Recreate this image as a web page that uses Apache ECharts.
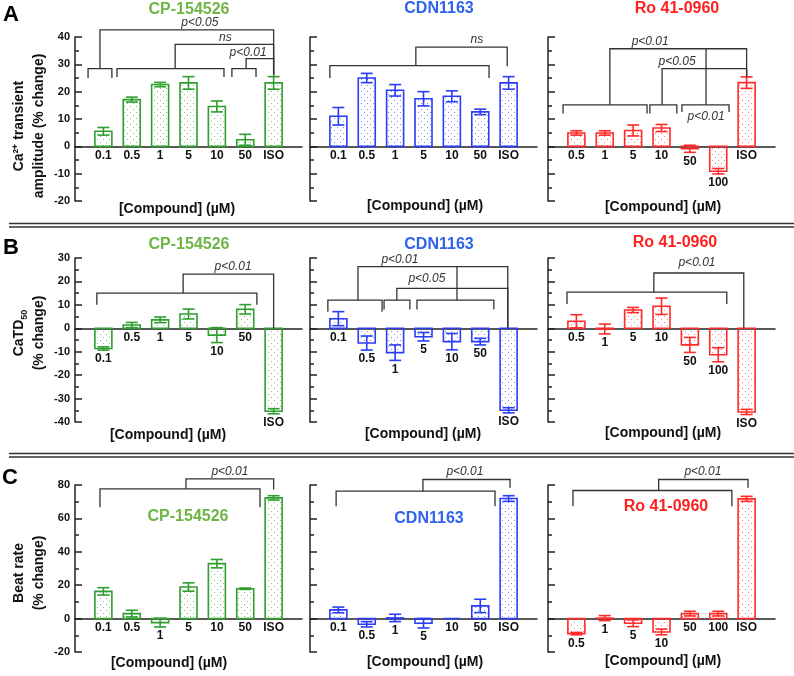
<!DOCTYPE html>
<html>
<head>
<meta charset="utf-8">
<title>Ca2+ transient, CaTD50 and beat rate</title>
<script src="https://cdn.jsdelivr.net/npm/echarts@6/dist/echarts.min.js"></script>
<style>
    html, body { margin: 0; padding: 0; background: #fff; }
    #chart { width: 794px; height: 676px; }
</style>
</head>
<body>
<div id="chart"></div>
<script>
// 类别（浓度 µM）
const catsCP = ['0.1', '0.5', '1', '5', '10', '50', 'ISO'];
const catsCDN = ['0.1', '0.5', '1', '5', '10', '50', 'ISO'];
const catsRo = ['0.5', '1', '5', '10', '50', '100', 'ISO'];

// A: Ca2+ transient amplitude (% change)
const ampCP = [5.5, 17.1, 22.6, 23.2, 14.6, 2.4, 23.2];
const ampCPErr = [1.4, 0.9, 0.8, 2.3, 2.0, 2.0, 2.3];
const ampCDN = [11.0, 25.0, 20.5, 17.4, 18.3, 12.6, 23.2];
const ampCDNErr = [3.2, 1.7, 2.1, 2.6, 2.0, 1.0, 2.3];
const ampRo = [4.9, 4.9, 5.8, 6.7, -0.9, -9.1, 23.3];
const ampRoErr = [0.8, 0.8, 2.0, 1.3, 1.3, 1.0, 2.1];

// B: CaTD50 (% change)
const catdCP = [-8.6, 1.4, 3.6, 6.1, -2.9, 8.1, -35.4];
const catdCPErr = [0.7, 1.1, 1.2, 2.1, 3.2, 2.0, 1.1];
const catdCDN = [4.1, -6.3, -10.4, -3.6, -5.7, -5.7, -35.0];
const catdCDNErr = [3.0, 3.0, 3.3, 1.8, 3.5, 1.4, 1.1];
const catdRo = [3.0, -0.3, 7.8, 9.4, -7.1, -11.3, -35.7];
const catdRoErr = [2.8, 2.1, 1.1, 3.5, 3.2, 3.0, 1.1];

// C: Beat rate (% change)
const rateCP = [16.3, 3.0, -2.4, 18.9, 32.9, 17.9, 72.3];
const rateCPErr = [2.2, 2.0, 2.6, 2.5, 2.5, 0.4, 1.3];
const rateCDN = [5.2, -3.4, 0.4, -2.8, 0, 7.6, 71.9];
const rateCDNErr = [1.7, 1.6, 2.2, 2.8, 0, 4.0, 1.7];
const rateRo = [-9.0, 0.3, -2.8, -8.0, 3.0, 3.0, 71.7];
const rateRoErr = [0.7, 1.5, 2.0, 1.7, 1.4, 1.4, 1.5];

// 显著性连线: [x起点, y起点, x终点, y终点, 横线高度]（类别序号 / 数值）
const sigAmpCP = [
    [-0.54, 25, 0.30, 25, 28.4],
    [0.48, 25.4, 4.25, 25.4, 28.4],
    [4.53, 25.4, 5.38, 25.4, 28.4],
    [-0.12, 28.4, 6, 26, 42.6],
    [2.53, 28.4, 6, 26, 37.3],
    [5.03, 28.4, 6, 26, 32.1]
];
const noteAmpCP = [[3.4, 45.2, 'p<0.05'], [4.3, 39.6, 'ns'], [5.1, 34.2, 'p<0.01']];

const sigAmpCDN = [
    [-0.30, 25, 5.31, 25, 29.5],
    [2.73, 29.5, 5.95, 29.3, 36.3]
];
const noteAmpCDN = [[4.88, 39, 'ns']];

const sigAmpRo = [
    [-0.47, 12, 2.49, 12, 15.2],
    [2.59, 12, 3.54, 12, 15.2],
    [3.72, 12.6, 5.38, 12.6, 15.2],
    [1.18, 15.2, 6, 25.5, 35.7],
    [3.02, 15.2, 6, 25.5, 28.4],
    [4.57, 15.2, 4.57, 35.7, 35.7]
];
const noteAmpRo = [[2.6, 38.4, 'p<0.01'], [3.55, 31, 'p<0.05'], [4.57, 11, 'p<0.01']];

const sigCatdCP = [
    [-0.23, 10, 5.41, 10, 15],
    [2.81, 15, 6, 0, 23.1]
];
const noteCatdCP = [[4.57, 26.4, 'p<0.01']];

const sigCatdCDN = [
    [-0.37, 7.1, 1.54, 7.1, 12],
    [1.61, 8, 2.52, 8, 12],
    [2.77, 8, 5.48, 8, 12],
    [0.69, 12, 5.97, 0, 26.3],
    [2.06, 12, 5.97, 0, 17],
    [4.18, 12, 4.18, 26.3, 26.3]
];
const noteCatdCDN = [[2.17, 29.3, 'p<0.01'], [3.12, 21, 'p<0.05']];

const sigCatdRo = [
    [-0.33, 10.4, 5.3, 10.4, 15.4],
    [2.73, 15.4, 5.9, 0, 23.6]
];
const noteCatdRo = [[4.25, 27.9, 'p<0.01']];

const sigRateCP = [
    [-0.12, 66.7, 5.52, 66.7, 77.7],
    [2.91, 77.7, 6, 77.3, 83.7]
];
const noteRateCP = [[4.46, 88, 'p<0.01']];

const sigRateCDN = [
    [-0.08, 67.3, 5.52, 67.3, 76.3],
    [2.98, 76.3, 6.05, 78.3, 83.3]
];
const noteRateCDN = [[4.46, 88, 'p<0.01']];

const sigRateRo = [
    [-0.12, 67.3, 5.48, 67.3, 76.7],
    [2.9, 76.7, 6.05, 78.3, 83.3]
];
const noteRateRo = [[4.46, 88, 'p<0.01']];

// 颜色
const GREEN = '#2f9e2f', GREEN_T = '#6fb546';
const BLUE = '#2a3df5', BLUE_T = '#2f63ee';
const RED = '#ff2a2a', RED_T = '#ff2020';
const FONT = '"Liberation Sans", Arial, sans-serif';

// 布局
const rows = [
    { top: 37, height: 164, min: -20, max: 40, interval: 10 },
    { top: 258, height: 164, min: -40, max: 30, interval: 10 },
    { top: 485, height: 167, min: -20, max: 80, interval: 20 }
];
const cols = [75, 310, 548];
const GRID_W = 227;

const panels = [
    { r: 0, c: 0, cats: catsCP, vals: ampCP, errs: ampCPErr, color: GREEN, sig: sigAmpCP, notes: noteAmpCP },
    { r: 0, c: 1, cats: catsCDN, vals: ampCDN, errs: ampCDNErr, color: BLUE, sig: sigAmpCDN, notes: noteAmpCDN },
    { r: 0, c: 2, cats: catsRo, vals: ampRo, errs: ampRoErr, color: RED, sig: sigAmpRo, notes: noteAmpRo },
    { r: 1, c: 0, cats: catsCP, vals: catdCP, errs: catdCPErr, color: GREEN, sig: sigCatdCP, notes: noteCatdCP },
    { r: 1, c: 1, cats: catsCDN, vals: catdCDN, errs: catdCDNErr, color: BLUE, sig: sigCatdCDN, notes: noteCatdCDN },
    { r: 1, c: 2, cats: catsRo, vals: catdRo, errs: catdRoErr, color: RED, sig: sigCatdRo, notes: noteCatdRo },
    { r: 2, c: 0, cats: catsCP, vals: rateCP, errs: rateCPErr, color: GREEN, sig: sigRateCP, notes: noteRateCP },
    { r: 2, c: 1, cats: catsCDN, vals: rateCDN, errs: rateCDNErr, color: BLUE, sig: sigRateCDN, notes: noteRateCDN },
    { r: 2, c: 2, cats: catsRo, vals: rateRo, errs: rateRoErr, color: RED, sig: sigRateRo, notes: noteRateRo }
];

// 点状填充
function dotPattern(color) {
    const c = document.createElement('canvas');
    c.width = 6;
    c.height = 6;
    const ctx = c.getContext('2d');
    ctx.globalAlpha = 0.6;
    ctx.fillStyle = color;
    ctx.fillRect(1, 1, 1, 1);
    ctx.fillRect(4, 4, 1, 1);
    return { image: c, repeat: 'repeat' };
}

function barSeries(idx, p) {
    const fill = dotPattern(p.color);
    return {
        type: 'custom',
        xAxisIndex: idx,
        yAxisIndex: idx,
        silent: true,
        data: p.vals.map((v, i) => [i, v, p.errs[i]]),
        renderItem: function(params, api) {
            const i = api.value(0), v = api.value(1), e = api.value(2);
            const base = api.coord([i, 0]);
            const top = api.coord([i, v]);
            const hi = api.coord([i, v + e]);
            const lo = api.coord([i, v - e]);
            const low = api.coord([i, Math.min(0, v - e)]);
            const bw = 17, cap = 6;
            const children = [{
                type: 'rect',
                shape: { x: base[0] - bw / 2, y: Math.min(base[1], top[1]), width: bw, height: Math.abs(top[1] - base[1]) },
                style: { fill: fill, stroke: p.color, lineWidth: 1.6 }
            }];
            if (e > 0) {
                const ls = { stroke: p.color, lineWidth: 1.6 };
                children.push({ type: 'line', shape: { x1: hi[0], y1: hi[1], x2: lo[0], y2: lo[1] }, style: ls });
                children.push({ type: 'line', shape: { x1: hi[0] - cap, y1: hi[1], x2: hi[0] + cap, y2: hi[1] }, style: ls });
                children.push({ type: 'line', shape: { x1: lo[0] - cap, y1: lo[1], x2: lo[0] + cap, y2: lo[1] }, style: ls });
            }
            children.push({
                type: 'text',
                style: {
                    text: p.cats[params.dataIndex], x: base[0], y: low[1] + 3,
                    align: 'center', verticalAlign: 'top',
                    fontSize: 12, fontWeight: 'bold', fontFamily: FONT, fill: '#111'
                }
            });
            return { type: 'group', children: children };
        }
    };
}

function sigSeries(idx, p) {
    return {
        type: 'custom',
        xAxisIndex: idx,
        yAxisIndex: idx,
        silent: true,
        data: p.sig,
        renderItem: function(params, api) {
            const a = api.coord([api.value(0), api.value(1)]);
            const at = api.coord([api.value(0), api.value(4)]);
            const bt = api.coord([api.value(2), api.value(4)]);
            const b = api.coord([api.value(2), api.value(3)]);
            return {
                type: 'polyline',
                shape: { points: [a, at, bt, b] },
                style: { stroke: '#333', lineWidth: 1.3, fill: null }
            };
        }
    };
}

function noteSeries(idx, p) {
    return {
        type: 'custom',
        xAxisIndex: idx,
        yAxisIndex: idx,
        silent: true,
        data: p.notes.map(n => [n[0], n[1]]),
        renderItem: function(params, api) {
            const pt = api.coord([api.value(0), api.value(1)]);
            return {
                type: 'text',
                style: {
                    text: p.notes[params.dataIndex][2], x: pt[0], y: pt[1],
                    align: 'center', verticalAlign: 'middle',
                    fontSize: 12, fontStyle: 'italic', fontFamily: FONT, fill: '#333'
                }
            };
        }
    };
}

const grids = [], xAxes = [], yAxes = [], series = [];
panels.forEach(function(p, idx) {
    const row = rows[p.r];
    grids.push({ left: cols[p.c], top: row.top, width: GRID_W, height: row.height, outerBoundsMode: 'none' });
    xAxes.push({
        gridIndex: idx, type: 'value', min: -1, max: 7,
        axisLine: { show: true, onZero: true, lineStyle: { color: '#222', width: 1.5 } },
        axisTick: { show: false }, axisLabel: { show: false }, splitLine: { show: false }
    });
    yAxes.push({
        gridIndex: idx, type: 'value', min: row.min, max: row.max, interval: row.interval,
        axisLine: { show: true, onZero: false, lineStyle: { color: '#222', width: 1.5 } },
        axisTick: { show: true, inside: true, length: 7, lineStyle: { color: '#222', width: 1.5 } },
        minorTick: { show: true, splitNumber: 2, length: 4, lineStyle: { color: '#222', width: 1.5 } },
        axisLabel: { show: p.c === 0, margin: 5, fontSize: 11, fontWeight: 'bold', color: '#111', fontFamily: FONT },
        splitLine: { show: false }
    });
    series.push(barSeries(idx, p), sigSeries(idx, p), noteSeries(idx, p));
});

function txt(x, y, text, size, color, extra) {
    return {
        type: 'text', x: x, y: y, silent: true,
        style: Object.assign({
            text: text, align: 'center', verticalAlign: 'middle',
            fontSize: size, fontWeight: 'bold', fontFamily: FONT, fill: color
        }, extra || {})
    };
}

const graphic = [
    // 面板字母
    txt(11, 15, 'A', 22, '#000'),
    txt(11, 248, 'B', 22, '#000'),
    txt(10, 478, 'C', 22, '#000'),
    // 化合物标题
    txt(189, 10, 'CP-154526', 16, GREEN_T),
    txt(439, 9, 'CDN1163', 16, BLUE_T),
    txt(677, 9, 'Ro 41-0960', 16, RED_T),
    txt(189, 245, 'CP-154526', 16, GREEN_T),
    txt(439, 245, 'CDN1163', 16, BLUE_T),
    txt(675, 243, 'Ro 41-0960', 16, RED_T),
    txt(188, 517, 'CP-154526', 16, GREEN_T),
    txt(429, 519, 'CDN1163', 16, BLUE_T),
    txt(666, 507, 'Ro 41-0960', 16, RED_T),
    // x 轴标题
    txt(177, 209, '[Compound] (µM)', 14, '#111'),
    txt(425, 206, '[Compound] (µM)', 14, '#111'),
    txt(663, 207, '[Compound] (µM)', 14, '#111'),
    txt(168, 435, '[Compound] (µM)', 14, '#111'),
    txt(423, 434, '[Compound] (µM)', 14, '#111'),
    txt(663, 433, '[Compound] (µM)', 14, '#111'),
    txt(169, 663, '[Compound] (µM)', 14, '#111'),
    txt(425, 662, '[Compound] (µM)', 14, '#111'),
    txt(663, 661, '[Compound] (µM)', 14, '#111')
];

// y 轴标题（旋转）
const richSub = {
    sub: { fontSize: 9, fontWeight: 'bold', fontFamily: FONT, fill: '#111', verticalAlign: 'bottom', lineHeight: 20 }
};
[[29, 126, 'Ca²⁺ transient\namplitude (% change)'],
 [29, 333, 'CaTD{sub|50}\n(% change)'],
 [29, 573, 'Beat rate\n(% change)']].forEach(function(t) {
    const el = txt(t[0], t[1], t[2], 14, '#111', { lineHeight: 20, rich: richSub });
    el.rotation = Math.PI / 2;
    graphic.push(el);
});

// 分隔双线
[223.5, 227, 453.5, 457].forEach(function(y) {
    graphic.push({
        type: 'line', silent: true,
        shape: { x1: 9, y1: y, x2: 794, y2: y },
        style: { stroke: '#333', lineWidth: 1.5 }
    });
});

const myChart = echarts.init(document.getElementById('chart'), null, { renderer: 'canvas' });
myChart.setOption({
    animation: false,
    backgroundColor: '#fff',
    textStyle: { fontFamily: FONT },
    grid: grids,
    xAxis: xAxes,
    yAxis: yAxes,
    series: series,
    graphic: graphic
});
</script>
</body>
</html>
